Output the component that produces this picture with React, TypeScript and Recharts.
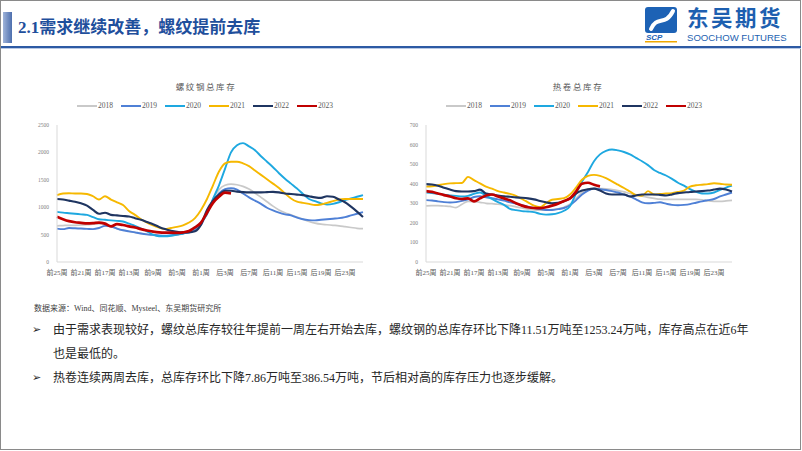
import React from 'react';
import { LineChart, Line, XAxis, YAxis, Legend } from 'recharts';

const weeks: string[] = [
  '前25周', '前24周', '前23周', '前22周', '前21周', '前20周', '前19周', '前18周', '前17周', '前16周',
  '前15周', '前14周', '前13周', '前12周', '前11周', '前10周', '前9周', '前8周', '前7周', '前6周',
  '前5周', '前4周', '前3周', '前2周', '前1周', '当周', '后1周', '后2周', '后3周', '后4周',
  '后5周', '后6周', '后7周', '后8周', '后9周', '后10周', '后11周', '后12周', '后13周', '后14周',
  '后15周', '后16周', '后17周', '后18周', '后19周', '后20周', '后21周', '后22周', '后23周', '后24周',
  '后25周', '后26周',
];

const years: string[] = ['2018', '2019', '2020', '2021', '2022', '2023'];

// 螺纹钢总库存 (万吨)
const rebar2018: number[] = [
  660, 665, 670, 670, 675, 680, 690, 700, 690, 650,
  610, 580, 560, 540, 520, 505, 490, 475, 470, 480,
  500, 520, 550, 600, 700, 900, 1150, 1320, 1400, 1420,
  1410, 1380, 1330, 1260, 1180, 1100, 1020, 950, 900, 860,
  820, 780, 740, 710, 690, 680, 670, 660, 645, 630,
  615, 610,
];
const rebar2019: number[] = [
  610, 600, 620, 615, 610, 605, 600, 620, 660, 650,
  610, 580, 560, 540, 520, 505, 495, 485, 480, 490,
  500, 520, 540, 580, 680, 900, 1100, 1250, 1330, 1345,
  1320, 1250, 1180, 1120, 1060, 990, 940, 900, 870, 850,
  810, 780, 765, 760, 770, 780, 790, 800, 820, 850,
  880, 910,
];
const rebar2020: number[] = [
  915, 900, 890, 880, 870, 860, 820, 780, 770, 760,
  750, 740, 700, 660, 610, 560, 500, 470, 470, 480,
  500, 520, 560, 620, 720, 870, 1150, 1400, 1700, 2000,
  2130, 2170, 2110, 2040, 1930, 1830, 1730, 1620, 1520, 1430,
  1340, 1240, 1150, 1110, 1070, 1050, 1060, 1090, 1130, 1160,
  1190, 1220,
];
const rebar2021: number[] = [
  1220, 1250, 1255, 1250, 1250, 1240, 1200, 1140, 1200, 1140,
  1090, 1040, 930, 860, 780, 720, 670, 630, 600, 620,
  640, 670, 720, 800, 950, 1150, 1400, 1650, 1800, 1830,
  1830, 1800, 1750, 1670, 1590, 1510, 1430, 1350, 1250, 1160,
  1100, 1080, 1060, 1040, 1050, 1080, 1110, 1140, 1150, 1150,
  1150, 1150,
];
const rebar2022: number[] = [
  1150, 1140, 1120, 1100, 1070, 1030, 950, 880, 900, 860,
  850, 840, 830, 800, 770, 730, 690, 640, 600, 570,
  550, 540, 540, 560, 680, 950, 1120, 1230, 1300, 1300,
  1285, 1275, 1270, 1270, 1270, 1275, 1280, 1270, 1250, 1240,
  1230, 1220, 1200, 1180, 1170, 1200, 1190, 1140, 1090, 1010,
  920, 820,
];
const rebar2023: number[] = [
  824, 780, 745, 725, 715, 705, 710, 720, 700, 650,
  690, 675, 650, 630, 600, 575, 555, 540, 535, 535,
  530, 540, 565, 630, 720, 900, 1080, 1190, 1264.75, 1253.24,
];

// 热卷总库存 (万吨)
const coil2018: number[] = [
  287, 288, 288, 286, 284, 278, 295, 310, 308, 305,
  300, 298, 295, 292, 288, 282, 276, 270, 266, 265,
  265, 268, 272, 280, 295, 325, 355, 372, 376, 375,
  374, 370, 365, 358, 350, 343, 336, 330, 325, 321,
  320, 320, 320, 320, 320, 320, 318, 312, 310, 310,
  312, 315,
];
const coil2019: number[] = [
  316, 314, 310, 306, 304, 306, 312, 320, 332, 336,
  330, 326, 320, 314, 305, 298, 290, 283, 276, 270,
  266, 266, 270, 276, 290, 315, 345, 365, 375, 372,
  368, 362, 355, 345, 335, 320, 305, 300, 302, 305,
  298, 292, 290, 292, 296, 303, 310, 316, 322, 335,
  345, 355,
];
const coil2020: number[] = [
  355, 352, 348, 344, 340, 338, 335, 338, 348, 355,
  340, 322, 306, 292, 272, 265, 260, 258, 255, 246,
  242, 244, 250, 262, 285, 350, 410, 460, 515, 550,
  568, 575, 570, 562, 550, 532, 515, 495, 470, 455,
  442, 425, 405, 390, 372, 358, 350, 350, 355, 368,
  380, 390,
];
const coil2021: number[] = [
  385, 387, 392, 398, 402, 403, 404, 435, 418, 402,
  385, 375, 362, 355, 348, 338, 322, 305, 288, 280,
  300, 318, 322, 326, 345, 380, 420, 440, 445, 440,
  428, 412, 395, 378, 360, 342, 338, 362, 345, 348,
  350, 352, 358, 365, 385, 392, 395, 398, 402, 400,
  396, 395,
];
const coil2022: number[] = [
  398, 396, 390, 380, 370, 362, 360, 360, 362, 370,
  350, 345, 340, 336, 333, 330, 328, 325, 320, 312,
  305, 300, 302, 310, 325, 350, 365, 372, 375, 365,
  350, 345, 345, 345, 335, 340, 345, 345, 345, 343,
  340, 345, 352, 355, 358, 360, 362, 365, 370, 375,
  370, 360,
];
const coil2023: number[] = [
  362, 358, 350, 342, 335, 326, 322, 325, 310, 325,
  340, 345, 335, 325, 315, 300, 288, 280, 276, 275,
  280, 288, 298, 312, 325, 360, 400, 405, 394.4, 386.54,
];

const rebarTicks: number[] = [0, 500, 1000, 1500, 2000, 2500];
const coilTicks: number[] = [0, 100, 200, 300, 400, 500, 600, 700];

const seriesStyle = [
  { color: '#c9c9c9', width: 1.7 },
  { color: '#4f80d6', width: 1.9 },
  { color: '#1ea8e0', width: 1.9 },
  { color: '#f6b800', width: 1.9 },
  { color: '#1f3561', width: 2.1 },
  { color: '#c00000', width: 2.7 },
];

function buildData(series: number[][]) {
  return weeks.map((w, i) => {
    const row: Record<string, string | number | undefined> = { week: w };
    years.forEach((y, k) => {
      row['y' + y] = series[k][i];
    });
    return row;
  });
}

const rebarData = buildData([rebar2018, rebar2019, rebar2020, rebar2021, rebar2022, rebar2023]);
const coilData = buildData([coil2018, coil2019, coil2020, coil2021, coil2022, coil2023]);

const FONT = "'Liberation Serif', 'Noto Sans CJK SC', serif";
const SANS = "'Liberation Serif', 'Noto Sans CJK SC', sans-serif";

const LegendContent = () => (
  <div style={{ display: 'flex', alignItems: 'center', fontFamily: FONT, fontSize: 7.5, color: '#595959' }}>
    {years.map((y, k) => (
      <div key={y} style={{ display: 'flex', alignItems: 'center', marginRight: 8 }}>
        <svg width={20} height={4} style={{ display: 'block' }}>
          <line x1={0} y1={2} x2={20} y2={2} stroke={seriesStyle[k].color} strokeWidth={2} />
        </svg>
        <span style={{ marginLeft: 1, lineHeight: '8px' }}>{y}</span>
      </div>
    ))}
  </div>
);

function InvChart(props: { data: any[]; ticks: number[]; left: number; title: string; titleX: number; legendLeft: number }) {
  const { data, ticks, left, title, titleX, legendLeft } = props;
  return (
    <>
      <div
        style={{
          position: 'absolute',
          left: titleX - 60,
          width: 120,
          top: 80,
          textAlign: 'center',
          fontFamily: FONT,
          fontSize: 8.5,
          letterSpacing: 1.6,
          color: '#595959',
        }}
      >
        {title}
      </div>
      <div style={{ position: 'absolute', left, top: 98 }}>
        <LineChart width={360} height={200} data={data} margin={{ top: 27, right: 17, bottom: 16, left: 0 }}>
          <XAxis
            dataKey="week"
            interval={3}
            tickLine={false}
            axisLine={{ stroke: '#d9d9d9' }}
            tick={{ fontSize: 7, fill: '#595959', fontFamily: FONT }}
            height={20}
          />
          <YAxis
            domain={[0, ticks[ticks.length - 1]]}
            ticks={ticks}
            width={37}
            tickLine={false}
            axisLine={{ stroke: '#d9d9d9' }}
            tick={{ fontSize: 5.5, fill: '#7f7f7f', fontFamily: FONT }}
          />
          <Legend
            layout="horizontal"
            verticalAlign="middle"
            align="center"
            wrapperStyle={{ top: 4, left: legendLeft, width: 300, height: 10 }}
            content={() => <LegendContent />}
          />
          {years.map((y, k) => (
            <Line
              key={y}
              dataKey={'y' + y}
              name={y}
              type="monotone"
              dot={false}
              stroke={seriesStyle[k].color}
              strokeWidth={seriesStyle[k].width}
              isAnimationActive={false}
            />
          ))}
        </LineChart>
      </div>
    </>
  );
}

const Logo = () => (
  <div style={{ position: 'absolute', left: 643, top: 5, width: 155, height: 40 }}>
    <svg width={38} height={38} style={{ position: 'absolute', left: 0, top: 0 }}>
      <rect x={2} y={2} width={32} height={26} rx={3} fill="#1d62b5" />
      <path d="M8 24 C 14 10, 22 22, 30 6" stroke="#ffffff" strokeWidth={4} fill="none" strokeLinecap="round" />
      <text x={3} y={35} fontFamily="'Liberation Sans', Arial" fontSize={8} fontWeight={700} fontStyle="italic" fill="#1d62b5">SCP</text>
      <rect x={2} y={36} width={32} height={1.5} fill="#f0a800" />
    </svg>
    <div
      style={{
        position: 'absolute',
        left: 44,
        top: -3.9,
        fontFamily: "'Noto Sans CJK SC', sans-serif",
        fontWeight: 700,
        fontSize: 21.5,
        lineHeight: 'normal',
        color: '#1d5fb0',
        letterSpacing: 2.5,
        whiteSpace: 'nowrap',
      }}
    >
      东吴期货
    </div>
    <div
      style={{
        position: 'absolute',
        left: 44,
        top: 27.4,
        fontFamily: "'Liberation Sans', Arial, sans-serif",
        fontSize: 9.6,
        lineHeight: 'normal',
        color: '#1d5fb0',
        whiteSpace: 'nowrap',
      }}
    >
      SOOCHOW FUTURES
    </div>
  </div>
);

export default function App() {
  return (
    <div
      style={{
        position: 'absolute',
        left: 0,
        top: 0,
        width: 802,
        height: 451,
        background: '#ffffff',
        overflow: 'hidden',
      }}
    >
      <div
        style={{
          position: 'absolute',
          left: 0,
          top: 0,
          width: 801,
          height: 450,
          border: '1px solid #8a8a8a',
          boxSizing: 'border-box',
        }}
      />
      <div
        style={{
          position: 'absolute',
          left: 3,
          top: 12,
          width: 9,
          height: 31,
          background: 'linear-gradient(90deg, #9fb3d9, #4d6fae)',
        }}
      />
      <div
        style={{
          position: 'absolute',
          left: 18,
          top: 16,
          fontFamily: SANS,
          fontWeight: 700,
          fontSize: 17,
          lineHeight: '24px',
          color: '#1f4f9c',
          whiteSpace: 'nowrap',
        }}
      >
        2.1需求继续改善，螺纹提前去库
      </div>
      <Logo />
      <div style={{ position: 'absolute', left: 1, top: 46, width: 800, height: 2, background: '#2d5aa4' }} />
      <div style={{ position: 'absolute', left: 1, top: 48, width: 800, height: 1, background: '#b8c8e4' }} />

      <InvChart data={rebarData} ticks={rebarTicks} left={20} title="螺纹钢总库存" titleX={206} legendLeft={57} />
      <InvChart data={coilData} ticks={coilTicks} left={389} title="热卷总库存" titleX={578} legendLeft={57} />

      <div
        style={{
          position: 'absolute',
          left: 34,
          top: 302,
          fontFamily: SANS,
          fontSize: 8,
          color: '#404040',
          whiteSpace: 'nowrap',
        }}
      >
        数据来源：Wind、同花顺、Mysteel、东吴期货研究所
      </div>
      <div
        style={{
          position: 'absolute',
          left: 32,
          top: 318,
          width: 727,
          fontFamily: SANS,
          fontSize: 12,
          lineHeight: '24px',
          color: '#262626',
        }}
      >
        <div style={{ position: 'relative', paddingLeft: 21 }}>
          <span style={{ position: 'absolute', left: 0, top: 0, fontFamily: "'DejaVu Sans', sans-serif", fontSize: 11 }}>➢</span>
          由于需求表现较好，螺纹总库存较往年提前一周左右开始去库，螺纹钢的总库存环比下降11.51万吨至1253.24万吨，库存高点在近6年也是最低的。
        </div>
        <div style={{ position: 'relative', paddingLeft: 21 }}>
          <span style={{ position: 'absolute', left: 0, top: 0, fontFamily: "'DejaVu Sans', sans-serif", fontSize: 11 }}>➢</span>
          热卷连续两周去库，总库存环比下降7.86万吨至386.54万吨，节后相对高的库存压力也逐步缓解。
        </div>
      </div>
    </div>
  );
}
